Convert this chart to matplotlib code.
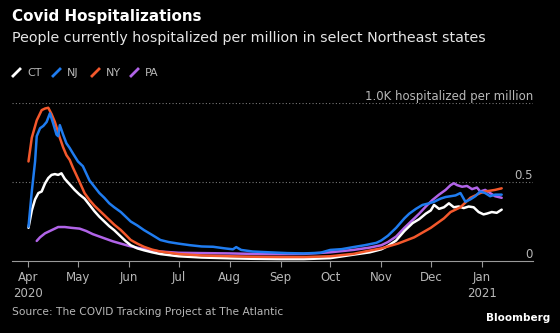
import matplotlib
matplotlib.use("Agg")
import matplotlib.pyplot as plt
import pandas as pd
from matplotlib.lines import Line2D
from matplotlib.transforms import blended_transform_factory

# hospitalized per million
ct_dates = ["2020-04-01", "2020-04-03", "2020-04-05", "2020-04-07", "2020-04-09",
            "2020-04-11", "2020-04-13", "2020-04-15", "2020-04-17", "2020-04-19",
            "2020-04-21", "2020-04-23", "2020-04-26", "2020-04-29", "2020-05-02",
            "2020-05-05", "2020-05-08", "2020-05-11", "2020-05-14", "2020-05-17",
            "2020-05-20", "2020-05-23", "2020-05-27", "2020-05-30", "2020-06-02",
            "2020-06-06", "2020-06-10", "2020-06-15", "2020-06-20", "2020-07-01",
            "2020-07-15", "2020-08-01", "2020-08-15", "2020-09-01", "2020-09-15",
            "2020-10-01", "2020-10-15", "2020-10-25", "2020-11-01", "2020-11-05",
            "2020-11-10", "2020-11-15", "2020-11-20", "2020-11-24", "2020-11-28",
            "2020-12-01", "2020-12-03", "2020-12-06", "2020-12-09", "2020-12-12",
            "2020-12-15", "2020-12-18", "2020-12-21", "2020-12-24", "2020-12-27",
            "2020-12-30", "2021-01-02", "2021-01-04", "2021-01-07", "2021-01-10",
            "2021-01-13"]
ct_vals = [210, 320, 390, 430, 440, 490, 525, 545, 550, 545, 555, 520, 485, 450,
           420, 395, 355, 315, 280, 250, 220, 195, 155, 125, 100, 80, 68, 55, 44,
           30, 22, 17, 14, 12, 12, 18, 40, 55, 74, 95, 130, 190, 240, 265, 300, 320,
           355, 330, 340, 365, 340, 345, 335, 345, 340, 310, 295, 300, 310, 305, 325]

nj_dates = ["2020-04-01", "2020-04-03", "2020-04-05", "2020-04-06", "2020-04-08",
            "2020-04-10", "2020-04-12", "2020-04-14", "2020-04-16", "2020-04-18",
            "2020-04-19", "2020-04-20", "2020-04-22", "2020-04-24", "2020-04-26",
            "2020-04-28", "2020-05-01", "2020-05-04", "2020-05-08", "2020-05-11",
            "2020-05-14", "2020-05-17", "2020-05-20", "2020-05-23", "2020-05-27",
            "2020-05-30", "2020-06-02", "2020-06-06", "2020-06-10", "2020-06-15",
            "2020-06-20", "2020-06-25", "2020-07-01", "2020-07-08", "2020-07-15",
            "2020-07-22", "2020-07-29", "2020-08-03", "2020-08-05", "2020-08-08",
            "2020-08-15", "2020-08-25", "2020-09-05", "2020-09-15", "2020-09-25",
            "2020-10-01", "2020-10-08", "2020-10-15", "2020-10-22", "2020-10-29",
            "2020-11-01", "2020-11-05", "2020-11-10", "2020-11-15", "2020-11-18",
            "2020-11-22", "2020-11-26", "2020-11-30", "2020-12-03", "2020-12-07",
            "2020-12-10", "2020-12-13", "2020-12-16", "2020-12-19", "2020-12-22",
            "2020-12-25", "2020-12-28", "2020-12-31", "2021-01-03", "2021-01-06",
            "2021-01-09", "2021-01-13"]
nj_vals = [217, 440, 630, 790, 840, 855, 880, 935, 870, 800, 790, 860, 800, 745,
           715, 680, 630, 600, 510, 470, 430, 400, 365, 340, 310, 280, 250, 225,
           196, 165, 133, 120, 110, 100, 92, 90, 80, 74, 88, 70, 60, 55, 50, 48, 52,
           70, 75, 88, 100, 115, 130, 160, 210, 270, 300, 330, 355, 365, 375, 395,
           405, 410, 415, 430, 375, 390, 410, 440, 430, 410, 420, 420]

ny_dates = ["2020-04-01", "2020-04-03", "2020-04-06", "2020-04-09", "2020-04-11",
            "2020-04-13", "2020-04-15", "2020-04-17", "2020-04-20", "2020-04-22",
            "2020-04-24", "2020-04-26", "2020-04-28", "2020-05-02", "2020-05-05",
            "2020-05-08", "2020-05-11", "2020-05-14", "2020-05-17", "2020-05-20",
            "2020-05-23", "2020-05-27", "2020-05-30", "2020-06-02", "2020-06-06",
            "2020-06-10", "2020-06-15", "2020-06-20", "2020-07-01", "2020-07-15",
            "2020-08-01", "2020-08-15", "2020-09-01", "2020-09-15", "2020-10-01",
            "2020-10-15", "2020-10-22", "2020-11-01", "2020-11-06", "2020-11-11",
            "2020-11-16", "2020-11-21", "2020-11-26", "2020-12-01", "2020-12-05",
            "2020-12-09", "2020-12-13", "2020-12-16", "2020-12-19", "2020-12-22",
            "2020-12-25", "2020-12-28", "2020-12-31", "2021-01-03", "2021-01-06",
            "2021-01-09", "2021-01-13"]
ny_vals = [630, 780, 890, 955, 965, 970, 930, 880, 780, 720, 670, 640, 590, 500,
           430, 386, 350, 320, 290, 260, 230, 196, 165, 133, 110, 90, 72, 60, 44,
           35, 30, 27, 25, 25, 30, 45, 60, 80, 95, 110, 130, 150, 180, 210, 240,
           270, 310, 325, 340, 370, 400, 415, 430, 440, 445, 450, 460]

pa_dates = ["2020-04-06", "2020-04-08", "2020-04-11", "2020-04-15", "2020-04-19",
            "2020-04-23", "2020-04-27", "2020-05-02", "2020-05-06", "2020-05-10",
            "2020-05-14", "2020-05-18", "2020-05-22", "2020-05-27", "2020-06-01",
            "2020-06-08", "2020-06-14", "2020-06-20", "2020-07-01", "2020-07-15",
            "2020-08-01", "2020-08-15", "2020-09-01", "2020-09-15", "2020-10-01",
            "2020-10-15", "2020-10-25", "2020-11-01", "2020-11-05", "2020-11-10",
            "2020-11-15", "2020-11-20", "2020-11-24", "2020-11-28", "2020-12-02",
            "2020-12-06", "2020-12-10", "2020-12-13", "2020-12-15", "2020-12-17",
            "2020-12-20", "2020-12-23", "2020-12-26", "2020-12-29", "2020-12-31",
            "2021-01-03", "2021-01-06", "2021-01-09", "2021-01-13"]
pa_vals = [127, 150, 175, 195, 215, 215, 210, 205, 190, 170, 155, 140, 125, 110,
           95, 80, 68, 60, 52, 50, 48, 45, 44, 45, 55, 70, 85, 100, 120, 155, 210,
           260, 300, 345, 386, 420, 450, 480, 492, 480, 470, 475, 455, 465, 440,
           450, 430, 410, 400]

states = ["CT", "NJ", "NY", "PA"]
colors = {"CT": "#ffffff", "NJ": "#1f7cf0", "NY": "#f4582c", "PA": "#b164e8"}
series = {"CT": (ct_dates, ct_vals), "NJ": (nj_dates, nj_vals),
          "NY": (ny_dates, ny_vals), "PA": (pa_dates, pa_vals)}

BG = "#000000"
GREY = "#b8b8b8"

fig = plt.figure(figsize=(5.6, 3.33), dpi=100, facecolor=BG)
ax = fig.add_axes([12 / 560, 1 - 261 / 333, 521 / 560, 158 / 333], facecolor=BG)

for st in ["PA", "CT", "NY", "NJ"]:
    d, v = series[st]
    ax.plot(pd.to_datetime(d), v, color=colors[st], lw=1.8, clip_on=False,
            solid_joinstyle="round", solid_capstyle="round")

ax.set_xlim(pd.Timestamp("2020-03-22"), pd.Timestamp("2021-02-01"))
ax.set_ylim(0, 1000)

for yv in (500, 1000):
    ax.axhline(yv, color="#777777", lw=0.8, ls=(0, (1, 2)), zorder=0)

tr = blended_transform_factory(ax.transAxes, ax.transData)
ax.text(1.0, 1000, "1.0K hospitalized per million", transform=tr, ha="right",
        va="bottom", color=GREY, fontsize=8.5)
ax.text(1.0, 500, "0.5", transform=tr, ha="right", va="bottom", color=GREY,
        fontsize=8.5)
ax.text(1.0, 0, "0", transform=tr, ha="right", va="bottom", color=GREY,
        fontsize=8.5)

ax.set_yticks([])
for s in ("left", "right", "top"):
    ax.spines[s].set_visible(False)
ax.spines["bottom"].set_color("#999999")
ax.spines["bottom"].set_linewidth(0.8)

ticks = pd.date_range("2020-04-01", "2021-01-01", freq="MS")
labels = [t.strftime("%b") + ("\n" + str(t.year) if t.month in (1, 4) else "")
          for t in ticks]
ax.set_xticks(ticks)
ax.set_xticklabels(labels, linespacing=1.3)
ax.tick_params(axis="x", colors="#999999", labelcolor=GREY, labelsize=8.5,
               length=4, width=0.8, pad=3)
for lab in ax.get_xticklabels():
    lab.set_verticalalignment("top")

fig.text(12 / 560, 1 - 17 / 333, "Covid Hospitalizations", color="white",
         fontsize=10.9, fontweight="bold", va="center")
fig.text(12 / 560, 1 - 38 / 333,
         "People currently hospitalized per million in select Northeast states",
         color="#e6e6e6", fontsize=10.3, va="center")

leg_x = [13, 53, 92, 131]
for x0, st in zip(leg_x, states):
    fig.add_artist(Line2D([x0 / 560, (x0 + 7) / 560],
                          [1 - 76 / 333, 1 - 69 / 333],
                          transform=fig.transFigure, color=colors[st], lw=2))
    fig.text((x0 + 14) / 560, 1 - 72.5 / 333, st, color=GREY, fontsize=8,
             va="center")

fig.text(12 / 560, 1 - 312 / 333, "Source: The COVID Tracking Project at The Atlantic",
         color=GREY, fontsize=7.7, va="center")
fig.text(550 / 560, 1 - 318 / 333, "Bloomberg", color="white", fontsize=7.5,
         fontweight="bold", ha="right", va="center")

fig.savefig("out.png", dpi=100, facecolor=BG)
